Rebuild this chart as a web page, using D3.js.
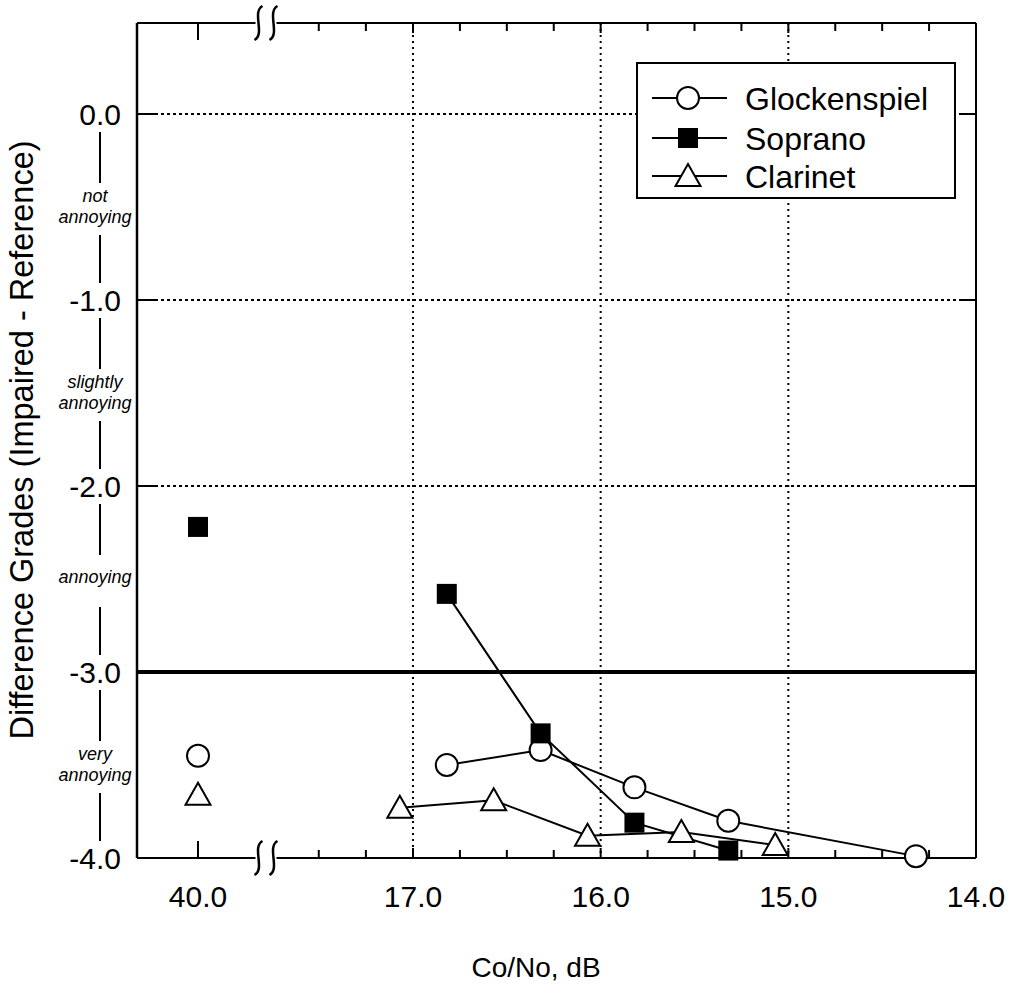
<!DOCTYPE html>
<html>
<head>
<meta charset="utf-8">
<script src="https://cdn.jsdelivr.net/npm/d3@7"></script>
<style>
  html, body { margin: 0; padding: 0; background: #fff; }
  svg { display: block; }
  text { font-family: "Liberation Sans", Arial, Helvetica, sans-serif; fill: #000; }
</style>
</head>
<body>
<svg id="chart" width="1013" height="994"></svg>
<script>
// ---- data -------------------------------------------------------------
const xTickValues = [40, 17, 16, 15, 14];
const xTickLabels = ["40.0", "17.0", "16.0", "15.0", "14.0"];
const xGridValues = [17, 16, 15];
const xMinorTicks = [17.5, 17.25, 16.75, 16.5, 16.25, 15.75, 15.5, 15.25, 14.75, 14.5, 14.25];
const yTickValues = [0, -1, -2, -3, -4];
const yTickLabels = ["0.0", "-1.0", "-2.0", "-3.0", "-4.0"];
const gradeBands = [["not", "annoying"], ["slightly", "annoying"], ["annoying"], ["very", "annoying"]];

const seriesNames = ["Glockenspiel", "Soprano", "Clarinet"];
const glockenspielX = [16.82, 16.32, 15.82, 15.32, 14.32];
const glockenspielY = [-3.50, -3.42, -3.62, -3.80, -3.99];
const sopranoX = [16.82, 16.32, 15.82, 15.32];
const sopranoY = [-2.58, -3.33, -3.81, -3.96];
const clarinetX = [17.07, 16.57, 16.07, 15.57, 15.07];
const clarinetY = [-3.73, -3.69, -3.88, -3.86, -3.93];
// unimpaired reference condition (40 dB), plotted left of the axis break
const referenceX = 40.0;
const referenceY = [-3.45, -2.22, -3.66];
const axisBreakX = 17.78;

// ---- scales -----------------------------------------------------------
const plotLeft = 137, plotRight = 976, plotTop = 23, plotBottom = 858;
// piecewise scale: 40 dB sits in a short segment before the break
const x = d3.scaleLinear()
  .domain([40.33, 40, axisBreakX, 17, 14])
  .range([plotLeft, 198, 266, 413, plotRight]);
const y = d3.scaleLinear().domain([-4, 0]).range([plotBottom, 114]);

const svg = d3.select("#chart");
const ink = "#000";

// ---- grid ---------------------------------------------------------------
const grid = svg.append("g");
grid.selectAll("line.vgrid").data(xGridValues).join("line")
  .attr("x1", d => x(d)).attr("x2", d => x(d))
  .attr("y1", plotTop).attr("y2", plotBottom)
  .attr("stroke", ink).attr("stroke-width", 2).attr("stroke-dasharray", "2,4");
grid.selectAll("line.hgrid").data([0, -1, -2]).join("line")
  .attr("x1", plotLeft).attr("x2", plotRight)
  .attr("y1", d => y(d)).attr("y2", d => y(d))
  .attr("stroke", ink).attr("stroke-width", 2).attr("stroke-dasharray", "3,3");
// threshold line at -3
grid.append("line")
  .attr("x1", plotLeft).attr("x2", plotRight)
  .attr("y1", y(-3)).attr("y2", y(-3))
  .attr("stroke", ink).attr("stroke-width", 4);

// ---- frame ------------------------------------------------------------
const frame = svg.append("g").attr("stroke", ink).attr("fill", "none");
frame.append("line").attr("x1", plotLeft).attr("x2", plotRight).attr("y1", plotTop).attr("y2", plotTop).attr("stroke-width", 2);
frame.append("line").attr("x1", plotLeft).attr("x2", plotRight).attr("y1", plotBottom).attr("y2", plotBottom).attr("stroke-width", 2);
frame.append("line").attr("x1", plotLeft).attr("x2", plotLeft).attr("y1", plotTop).attr("y2", plotBottom).attr("stroke-width", 2.5);
frame.append("line").attr("x1", plotRight).attr("x2", plotRight).attr("y1", plotTop).attr("y2", plotBottom).attr("stroke-width", 2);

// y major ticks (solid stubs at both sides)
frame.selectAll("line.ytl").data(yTickValues).join("line")
  .attr("x1", plotLeft).attr("x2", plotLeft + 18)
  .attr("y1", d => y(d)).attr("y2", d => y(d)).attr("stroke-width", 2);
frame.selectAll("line.ytr").data(yTickValues).join("line")
  .attr("x1", plotRight - 17).attr("x2", plotRight)
  .attr("y1", d => y(d)).attr("y2", d => y(d)).attr("stroke-width", 2);

// x ticks: minor at bottom and top, grid stubs, long tick at 40
const tickSets = [
  { vals: xMinorTicks, len: 8 },
  { vals: xGridValues, len: 10 },
  { vals: [referenceX], len: 17 }
];
tickSets.forEach(ts => {
  frame.selectAll(null).data(ts.vals).join("line")
    .attr("x1", d => x(d)).attr("x2", d => x(d))
    .attr("y1", plotBottom).attr("y2", plotBottom - ts.len).attr("stroke-width", 2);
  frame.selectAll(null).data(ts.vals).join("line")
    .attr("x1", d => x(d)).attr("x2", d => x(d))
    .attr("y1", plotTop).attr("y2", plotTop + ts.len).attr("stroke-width", 2);
});

// axis break marks on top and bottom edges
function breakMarks(cy) {
  const cx = x(axisBreakX), h = 34, gap = 15;
  svg.append("rect").attr("x", cx - gap / 2 - 3).attr("y", cy - 3)
    .attr("width", gap + 6).attr("height", 6).attr("fill", "#fff");
  [cx - gap / 2, cx + gap / 2].forEach(mx => {
    svg.append("path")
      .attr("d", `M${mx + 4},${cy - h / 2} C${mx - 7},${cy - h / 2 + 6} ${mx + 7},${cy + h / 2 - 6} ${mx - 4},${cy + h / 2}`)
      .attr("fill", "none").attr("stroke", ink).attr("stroke-width", 2.5);
  });
}
breakMarks(plotTop);
breakMarks(plotBottom);

// ---- tick labels ------------------------------------------------------
svg.append("g").selectAll("text").data(xTickValues).join("text")
  .attr("x", d => x(d)).attr("y", 907)
  .attr("text-anchor", "middle").attr("font-size", 30)
  .text((d, i) => xTickLabels[i]);

svg.append("g").selectAll("text").data(yTickValues).join("text")
  .attr("x", 121).attr("y", d => y(d)).attr("dy", "0.36em")
  .attr("text-anchor", "end").attr("font-size", 30)
  .text((d, i) => yTickLabels[i]);

// grade descriptions between y labels
const bands = svg.append("g");
gradeBands.forEach((lines, i) => {
  const g0 = -i, g1 = -i - 1, mid = y(g0 - 0.5);
  bands.append("line").attr("x1", 100).attr("x2", 100)
    .attr("y1", y(g0) + 18).attr("y2", mid - 24).attr("stroke", ink).attr("stroke-width", 2);
  bands.append("line").attr("x1", 100).attr("x2", 100)
    .attr("y1", mid + 28).attr("y2", y(g1) - 17).attr("stroke", ink).attr("stroke-width", 2);
  const offs = lines.length === 2 ? [-11, 10] : [-2];
  lines.forEach((t, k) => {
    bands.append("text").attr("x", 95).attr("y", mid + offs[k]).attr("dy", "0.35em")
      .attr("text-anchor", "middle").attr("font-size", 18).attr("font-style", "italic")
      .text(t);
  });
});

// axis titles
svg.append("text")
  .attr("transform", `translate(33,440) rotate(-90)`)
  .attr("text-anchor", "middle").attr("font-size", 32.5)
  .text("Difference Grades (Impaired - Reference)");
svg.append("text")
  .attr("x", 536).attr("y", 977).attr("text-anchor", "middle").attr("font-size", 28)
  .text("Co/No, dB");

// ---- series -------------------------------------------------------------
const series = [
  { name: seriesNames[0], xs: glockenspielX, ys: glockenspielY, shape: "circle" },
  { name: seriesNames[1], xs: sopranoX, ys: sopranoY, shape: "square" },
  { name: seriesNames[2], xs: clarinetX, ys: clarinetY, shape: "triangle" }
];

function marker(g, shape, cx, cy) {
  if (shape === "circle") {
    g.append("circle").attr("cx", cx).attr("cy", cy).attr("r", 11)
      .attr("fill", "#fff").attr("stroke", ink).attr("stroke-width", 2);
  } else if (shape === "square") {
    g.append("rect").attr("x", cx - 10).attr("y", cy - 10).attr("width", 20).attr("height", 20)
      .attr("fill", ink);
  } else {
    g.append("path")
      .attr("d", `M${cx},${cy - 12} L${cx + 12.5},${cy + 10} L${cx - 12.5},${cy + 10} Z`)
      .attr("fill", "#fff").attr("stroke", ink).attr("stroke-width", 2).attr("stroke-linejoin", "miter");
  }
}

const line = d3.line().x(d => x(d[0])).y(d => y(d[1]));
const lineLayer = svg.append("g");
const markLayer = svg.append("g");
series.forEach(s => {
  const pts = s.xs.map((v, i) => [v, s.ys[i]]);
  lineLayer.append("path").attr("d", line(pts))
    .attr("fill", "none").attr("stroke", ink).attr("stroke-width", 2);
});
// draw markers so that earlier series sit beneath later ones
[series[2], series[0], series[1]].forEach(s => {
  s.xs.forEach((v, i) => marker(markLayer, s.shape, x(v), y(s.ys[i])));
});
series.forEach((s, i) => marker(markLayer, s.shape, x(referenceX), y(referenceY[i])));

// ---- legend -----------------------------------------------------------
const legend = svg.append("g");
legend.append("rect").attr("x", 637).attr("y", 63).attr("width", 318).attr("height", 135)
  .attr("fill", "#fff").attr("stroke", ink).attr("stroke-width", 2);
const rowY = [98, 138, 176];
series.forEach((s, i) => {
  legend.append("line").attr("x1", 652).attr("x2", 727).attr("y1", rowY[i]).attr("y2", rowY[i])
    .attr("stroke", ink).attr("stroke-width", 2);
  marker(legend, s.shape, 688, rowY[i]);
  legend.append("text").attr("x", 745).attr("y", rowY[i]).attr("dy", "0.36em")
    .attr("font-size", 32).text(s.name);
});
</script>
</body>
</html>
